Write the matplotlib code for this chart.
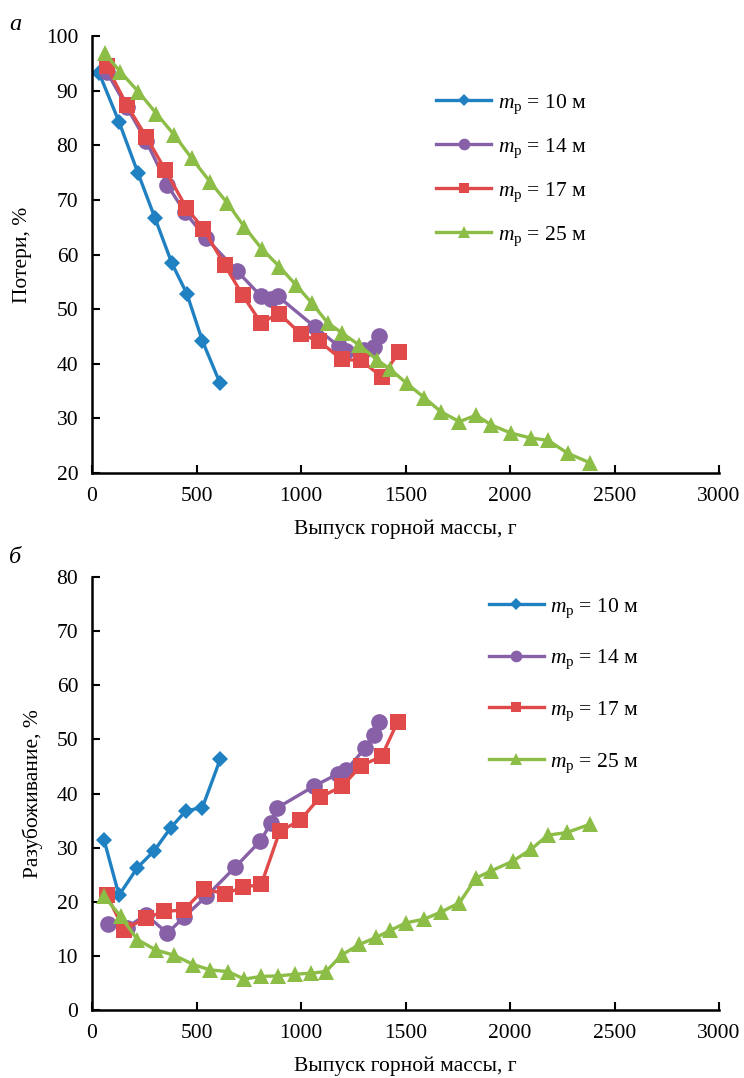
import matplotlib
matplotlib.use('Agg')
import matplotlib.pyplot as plt

plt.rcParams['font.family'] = ['Liberation Serif', 'DejaVu Serif']
plt.rcParams['mathtext.fontset'] = 'custom'
plt.rcParams['mathtext.rm'] = 'Liberation Serif'
plt.rcParams['mathtext.it'] = 'Liberation Serif:italic'

# --- данные: потери (а) ---
loss_x10 = [34, 129, 220, 302, 382, 454, 528, 612]
loss_y10 = [93.2, 84.3, 74.9, 66.6, 58.4, 52.8, 44.2, 36.5]
loss_x14 = [70, 166, 260, 361, 443, 545, 696, 808, 856, 888, 1068, 1180, 1215, 1300, 1350, 1375]
loss_y14 = [93.5, 87.0, 80.7, 72.7, 67.8, 63.0, 56.9, 52.4, 51.8, 52.4, 46.7, 43.2, 42.4, 42.6, 43.1, 45.1]
loss_x17 = [70, 166, 260, 350, 452, 533, 636, 720, 808, 896, 1000, 1088, 1194, 1287, 1387, 1470]
loss_y17 = [94.5, 87.4, 81.5, 75.5, 68.5, 64.7, 58.0, 52.6, 47.5, 49.2, 45.4, 44.1, 40.8, 40.6, 37.6, 42.2]
loss_x25 = [61, 134, 222, 308, 393, 477, 565, 648, 728, 811, 896, 976, 1052, 1127, 1194, 1279, 1364, 1427,
            1506, 1590, 1670, 1758, 1838, 1910, 2005, 2101, 2181, 2277, 2381]
loss_y25 = [96.8, 93.5, 89.8, 85.8, 81.9, 77.6, 73.3, 69.4, 65.1, 61.1, 57.8, 54.4, 51.1, 47.5, 45.7, 43.4, 40.7, 39.0,
            36.4, 33.8, 31.2, 29.4, 30.6, 28.8, 27.3, 26.4, 26.0, 23.6, 21.9]

# --- данные: разубоживание (б) ---
dil_x10 = [57, 129, 217, 297, 377, 449, 528, 613]
dil_y10 = [31.5, 21.2, 26.3, 29.4, 33.7, 36.8, 37.4, 46.3]
dil_x14 = [77, 166, 257, 361, 441, 547, 685, 805, 856, 884, 1064, 1175, 1215, 1308, 1351, 1372]
dil_y14 = [15.8, 15.2, 17.6, 14.2, 17.2, 21.0, 26.4, 31.2, 34.5, 37.3, 41.4, 43.6, 44.3, 48.4, 50.8, 53.2]
dil_x17 = [70, 153, 257, 345, 440, 536, 637, 723, 810, 898, 997, 1090, 1195, 1287, 1386, 1463]
dil_y17 = [21.3, 14.8, 17.0, 18.2, 18.5, 22.3, 21.5, 22.7, 23.2, 33.0, 35.1, 39.3, 41.3, 45.1, 46.9, 53.3]
dil_x25 = [58, 137, 217, 305, 393, 485, 564, 651, 728, 808, 891, 971, 1047, 1119, 1196, 1279, 1359, 1427,
           1502, 1590, 1670, 1758, 1838, 1910, 2013, 2101, 2181, 2273, 2381]
dil_y25 = [21.0, 17.3, 13.0, 11.1, 10.1, 8.4, 7.4, 7.1, 5.7, 6.2, 6.3, 6.6, 6.8, 7.1, 10.2, 12.1, 13.4, 14.7,
           16.1, 16.8, 18.1, 19.8, 24.4, 25.7, 27.5, 29.7, 32.3, 32.8, 34.3]

labels = [r'$m_{\mathrm{р}}$ = 10 м', r'$m_{\mathrm{р}}$ = 14 м',
          r'$m_{\mathrm{р}}$ = 17 м', r'$m_{\mathrm{р}}$ = 25 м']
colors = ['#1f80c2', '#8760a8', '#e04a4a', '#8cbd46']
markers = ['D', 'o', 's', '^']
msizes = [8.5, 12, 11, 12]

fs = 15.5

fig = plt.figure(figsize=(7.44, 10.78), dpi=100)
ax1 = fig.add_axes([0.1237, 0.5612, 0.8427, 0.4054])
ax2 = fig.add_axes([0.1237, 0.0631, 0.8427, 0.4016])


def draw(ax, series, ylim, yticks, ylabel, leg_anchor, spacing):
    for (x, y), lab, c, m, ms in zip(series, labels, colors, markers, msizes):
        ax.plot(x, y, color=c, marker=m, markersize=ms, linewidth=2.4, label=lab,
                markeredgewidth=0)
    ax.set_xlim(0, 3000)
    ax.set_ylim(*ylim)
    ax.set_xticks(range(0, 3001, 500))
    ax.set_yticks(yticks)
    ax.spines['top'].set_visible(False)
    ax.spines['right'].set_visible(False)
    for s in ('left', 'bottom'):
        ax.spines[s].set_linewidth(1.8)
    ax.tick_params(direction='in', length=6, width=1.5, labelsize=fs, pad=10)
    ax.set_xlabel('Выпуск горной массы, г', fontsize=fs, labelpad=10)
    ax.set_ylabel(ylabel, fontsize=fs, labelpad=10)
    ax.legend(loc='upper left', bbox_to_anchor=leg_anchor, frameon=False, fontsize=fs,
              handlelength=2.55, handletextpad=0.3, labelspacing=spacing,
              borderpad=0, borderaxespad=0, markerscale=0.7)


draw(ax1, [(loss_x10, loss_y10), (loss_x14, loss_y14), (loss_x17, loss_y17), (loss_x25, loss_y25)],
     (20, 100), range(20, 101, 10), 'Потери, %', (0.549, 0.871), 0.95)
draw(ax2, [(dil_x10, dil_y10), (dil_x14, dil_y14), (dil_x17, dil_y17), (dil_x25, dil_y25)],
     (0, 80), range(0, 81, 10), 'Разубоживание, %', (0.633, 0.956), 1.31)

fig.text(0.012, 0.972, 'а', fontsize=fs + 2, style='italic')
fig.text(0.012, 0.478, 'б', fontsize=fs + 2, style='italic')

fig.savefig('out.png', dpi=100)
